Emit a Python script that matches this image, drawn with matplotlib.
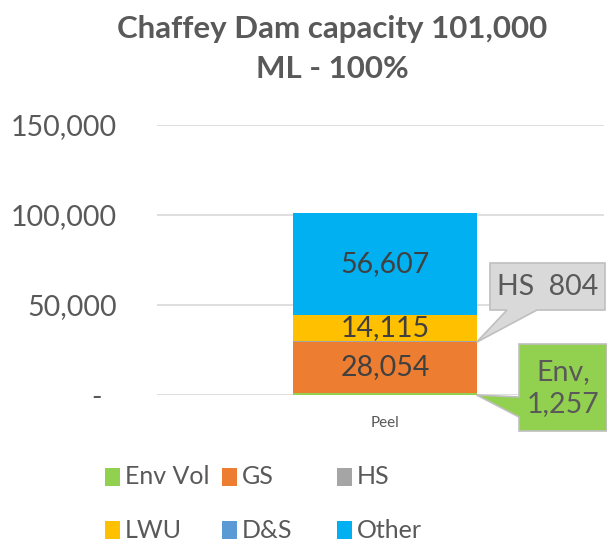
import matplotlib
matplotlib.use("Agg")
import matplotlib.pyplot as plt
from matplotlib.patches import Polygon, Rectangle

# data
categories = ["Peel"]
series = ["Env Vol", "GS", "HS", "LWU", "D&S", "Other"]
values = [1257, 28054, 804, 14115, 0, 56607]
colors = ["#92D050", "#ED7D31", "#A5A5A5", "#FFC000", "#5B9BD5", "#00B0F0"]
label_series = ["GS", "LWU", "Other"]  # labels written inside the bar
yticks = [0, 50000, 100000, 150000]
ytick_labels = ["-  ", "50,000", "100,000", "150,000"]
title = "Chaffey Dam capacity 101,000\nML - 100%"

W, H = 607, 542
txt = "#595959"
dark = "#404040"
plt.rcParams["font.family"] = ["Lato", "DejaVu Sans"]

fig = plt.figure(figsize=(W / 100, H / 100), dpi=100)
ax = fig.add_axes([157 / W, 1 - 395 / H, (604 - 157) / W, (395 - 125) / H])

# stacked bar
bottom = 0
for name, v, c in zip(series, values, colors):
    ax.bar(0, v, width=0.41, bottom=bottom, color=c, zorder=2)
    if name in label_series:
        ax.text(0, bottom + v / 2, f"{v:,}", ha="center", va="center",
                fontsize=20.5, color=dark, zorder=3)
    bottom += v

ax.set_xlim(-0.51, 0.49)
ax.set_ylim(0, 150000)
ax.set_yticks(yticks)
ax.set_yticklabels(ytick_labels)
ax.set_xticks([0])
ax.set_xticklabels(categories)
ax.tick_params(axis="y", length=0, pad=29, labelsize=20.5, labelcolor=txt)
ax.tick_params(axis="x", length=0, pad=15, labelsize=11, labelcolor=txt)
ax.grid(axis="y", color="#D9D9D9", linewidth=1.2, zorder=0)
for s in ax.spines.values():
    s.set_visible(False)

fig.text(332 / W, 1 - 49 / H, title, ha="center", va="center",
         fontsize=22.5, fontweight="bold", color=txt, linespacing=1.55)


def px(x, y):
    # pixel position (origin top left) -> figure fraction
    return (x / W, 1 - y / H)


def tip_px(x, y):
    d = ax.transData.transform((x, y))
    return (d[0], H - d[1])


# callouts
bar_right = 0.41 / 2
hs_bottom = values[0] + values[1]
tx, ty = tip_px(bar_right, hs_bottom)
hs_shape = [(490, 263), (605, 263), (605, 310), (537, 310), (tx, ty), (507, 310), (490, 310)]
fig.patches.append(Polygon([px(*p) for p in hs_shape], closed=True, transform=fig.transFigure,
                           facecolor="#D9D9D9", edgecolor="#BFBFBF", linewidth=1.2, zorder=5))
fig.text(547.5 / W, 1 - 287 / H, f"HS  {values[2]:,}", ha="center", va="center",
         fontsize=20.5, color=txt, zorder=6)

tx, ty = tip_px(bar_right, 0)
env_shape = [(519, 344), (607, 344), (607, 431), (519, 431), (519, 417), (tx, ty), (519, 397)]
fig.patches.append(Polygon([px(*p) for p in env_shape], closed=True, transform=fig.transFigure,
                           facecolor="#92D050", edgecolor="#BFBFBF", linewidth=1.2, zorder=5))
fig.text(563 / W, 1 - 388 / H, f"Env,\n{values[0]:,}", ha="center", va="center",
         fontsize=20.5, color=txt, linespacing=1.3, zorder=6)

# legend, laid out like the Excel one
leg_x = [105, 222, 337]
leg_y = [477, 530]
for i, (name, c) in enumerate(zip(series, colors)):
    x = leg_x[i % 3]
    y = leg_y[i // 3]
    fig.patches.append(Rectangle(px(x, y + 9), 15 / W, 18 / H, transform=fig.transFigure,
                                 facecolor=c, edgecolor="none"))
    fig.text((x + 20) / W, 1 - y / H, name, ha="left", va="center",
             fontsize=18, color=txt)

fig.savefig("out.png", dpi=100)
